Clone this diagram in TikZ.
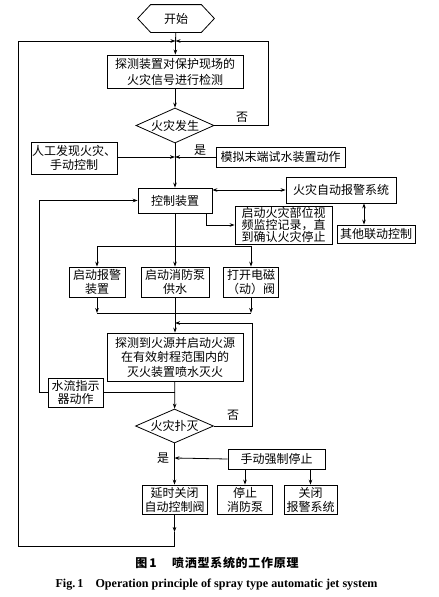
\documentclass[tikz,border=0pt]{standalone}
\usepackage{fontspec}
\setmainfont{Liberation Serif}
\newfontfamily\cjk{Noto Sans CJK SC}
\newfontfamily\cjkcap[LetterSpace=6]{Noto Sans CJK SC}
\usetikzlibrary{arrows.meta,shapes.geometric}
\tikzset{
  every path/.style={line width=0.8pt},
  box/.style={draw, line width=0.8pt, inner sep=0pt, align=center, font=\cjk\fontsize{12}{15}\selectfont},
  dia/.style={draw, diamond, aspect=2.3, inner sep=0pt, line width=0.8pt, font=\cjk\fontsize{12}{14}\selectfont},
  lbl/.style={font=\cjk\fontsize{12}{14}\selectfont, inner sep=0pt},
  arr/.style={-{Stealth[length=5pt,width=3.6pt]}},
  dbl/.style={{Stealth[length=5pt,width=3.6pt]}-{Stealth[length=5pt,width=3.6pt]}},
}
\begin{document}
\begin{tikzpicture}[x=1pt,y=-1pt]
\useasboundingbox (0,0) rectangle (439,597);
% nodes
\node[inner sep=0pt, minimum width=76, minimum height=27, font=\cjk\fontsize{12}{14}\selectfont] (start) at (176,18.5) {开始};
\draw (start.west) -- ([xshift=13]start.north west) -- ([xshift=-13]start.north east) -- (start.east) -- ([xshift=-13]start.south east) -- ([xshift=13]start.south west) -- cycle;
\node[box, minimum width=136, minimum height=33, font=\cjk\fontsize{12}{16}\selectfont] (detect) at (175,71.5) {探测装置对保护现场的\\火灾信号进行检测};
\node[dia, minimum width=78, minimum height=35] (fire) at (175,125.5) {火灾发生};
\node[box, minimum width=86, minimum height=32, font=\cjk\fontsize{12}{14}\selectfont] (manual) at (74,158) {人工发现火灾、\\手动控制};
\node[box, minimum width=129, minimum height=20] (sim) at (280.5,157) {模拟末端试水装置动作};
\node[box, minimum width=74, minimum height=25] (ctrl) at (175,200.5) {控制装置};
\node[box, minimum width=110, minimum height=26] (alarm) at (341,190) {火灾自动报警系统};
\node[box, minimum width=78, minimum height=18] (other) at (376,234) {其他联动控制};
\node[box, minimum width=97, minimum height=38, font=\cjk\fontsize{12}{12}\selectfont] (video) at (283.5,225) {启动火灾部位视\\频监控记录，直\\到确认火灾停止};
\node[box, minimum width=56, minimum height=30, font=\cjk\fontsize{12}{14}\selectfont] (b1) at (97,282) {启动报警\\装置};
\node[box, minimum width=68, minimum height=30, font=\cjk\fontsize{12}{14}\selectfont] (b2) at (175,282) {启动消防泵\\供水};
\node[box, minimum width=55, minimum height=30, font=\cjk\fontsize{12}{14}\selectfont] (b3) at (251,282) {打开电磁\\（动）阀};
\node[box, minimum width=136, minimum height=48, font=\cjk\fontsize{12}{14.5}\selectfont] (det2) at (175,357) {探测到火源并启动火源\\在有效射程范围内的\\灭火装置喷水灭火};
\node[box, minimum width=55, minimum height=29, font=\cjk\fontsize{12}{13.5}\selectfont] (water) at (75.5,392.5) {水流指示\\器动作};
\node[dia, minimum width=78, minimum height=34] (ext) at (174.5,426) {火灾扑灭};
\node[box, minimum width=97, minimum height=20] (stop) at (276.5,459) {手动强制停止};
\node[box, minimum width=65, minimum height=29, font=\cjk\fontsize{12}{14}\selectfont] (d1) at (174.5,499.5) {延时关闭\\自动控制阀};
\node[box, minimum width=55, minimum height=29, font=\cjk\fontsize{12}{14}\selectfont] (d2) at (245,499.5) {停止\\消防泵};
\node[box, minimum width=53, minimum height=29, font=\cjk\fontsize{12}{14}\selectfont] (d3) at (310.5,499.5) {关闭\\报警系统};
% coordinates
\coordinate (jtop) at (175.5,41);
\coordinate (jm) at (175,157);
\coordinate (split) at (175,246);
\coordinate (merge) at (175,313);
\coordinate (jr) at (175,323);
\coordinate (jw) at (174.5,392.5);
\coordinate (js) at (174.5,458);
\coordinate (mid) at (174.5,532);
% connectors
\draw[arr] (start) -- (detect);
\draw[arr] (detect) -- (fire);
\draw[arr] (fire.east) -- (268,125.5) -- (268,41) -- (jtop);
\node[lbl] (no1) at (242,117) {否};
\draw[arr] (fire) -- (ctrl);
\node[lbl] (yes1) at (200,150) {是};
\draw[arr] (manual.east |- jm) -- (jm);
\draw[arr] (sim.west) -- (jm);
\draw[dbl] (ctrl.east |- alarm.west) -- (alarm.west);
\draw[dbl] ([xshift=23]alarm.south) -- ([xshift=-12]other.north);
\draw[arr] ([xshift=-6]ctrl.south east) |- (video.west);
\draw[arr] (ctrl) -- (b2);
\draw[arr] (split) -| (b1.north);
\draw[arr] (split) -| (b3.north);
\draw[arr] (b1.south) -- (b1.south |- merge);
\draw[arr] (b3.south) -- (b3.south |- merge);
\draw (b1.south |- merge) -- (b3.south |- merge);
\draw[arr] (b2) -- (det2);
\draw[arr] (ext.east) -- (252,426) -- (252,323) -- (jr);
\node[lbl] (no2) at (233,415) {否};
\draw[arr] (det2) -- (ext);
\draw (jw) -- (water.east);
\draw[arr] (water.west) -- (39,392.5) |- (ctrl.west);
\draw[arr] (ext) -- (d1);
\node[lbl] (yes2) at (163,458) {是};
\draw[arr] (stop.west) -- (js);
\draw[arr] (stop.south -| d2.north) -- (d2.north);
\draw[arr] (stop.south -| d3.north) -- (d3.north);
\draw[arr] (d1) -- (mid);
\draw[arr] (mid) -- (174.5,546) -| (18,41) -- (jtop);
% captions
\node[font=\cjkcap\bfseries\fontsize{12}{14}\selectfont, inner sep=0pt] (cap1) at (217,563) {图\,1\quad\ 喷洒型系统的工作原理};
\node[font=\bfseries\fontsize{12.1}{14}\selectfont, inner sep=0pt] (cap2) at (216.5,585) {Fig.\,1\quad Operation principle of spray type automatic jet system};
\end{tikzpicture}
\end{document}
